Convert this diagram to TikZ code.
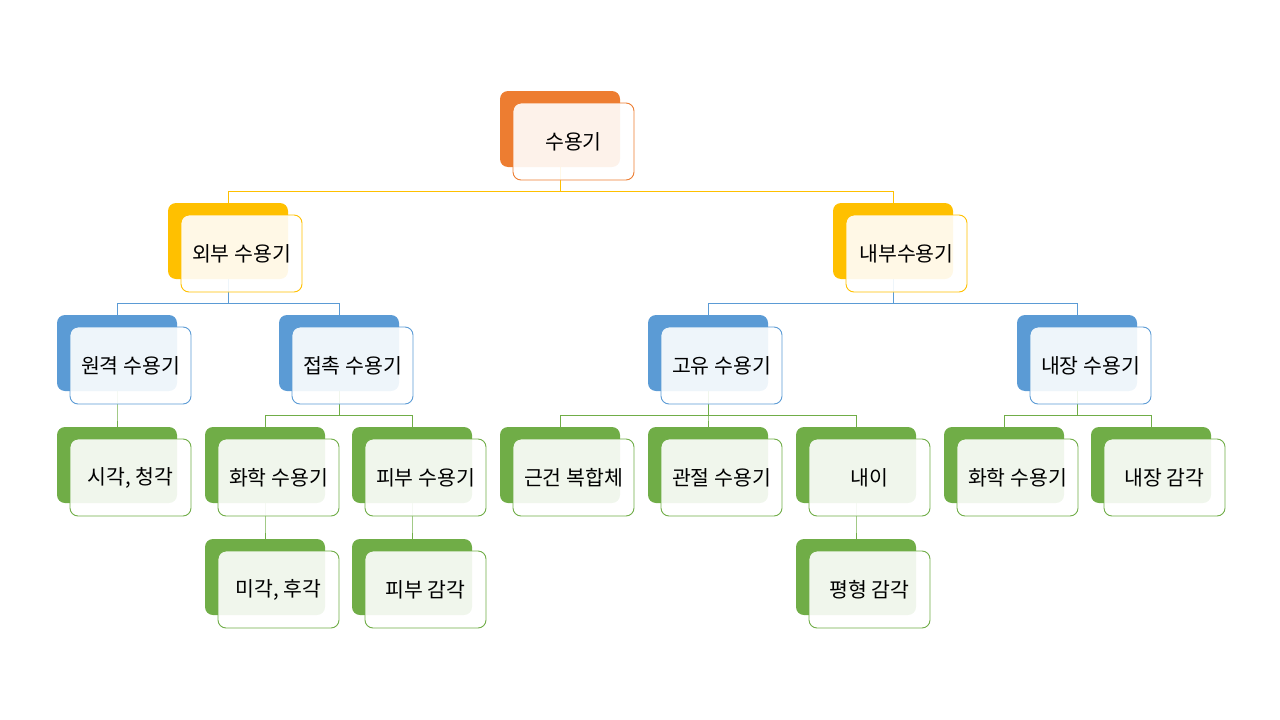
\documentclass[tikz,border=0pt]{standalone}
\usepackage{fontspec}
\newfontfamily\krfont{Noto Sans CJK KR}
\usetikzlibrary{positioning,calc}
\pgfdeclarelayer{bg}
\pgfsetlayers{bg,main}
\usepackage{xcolor}
\definecolor{accorange}{HTML}{ED7D31}
\definecolor{accgold}{HTML}{FFC000}
\definecolor{accblue}{HTML}{5B9BD5}
\definecolor{accgreen}{HTML}{70AD47}

\begin{document}
\begin{tikzpicture}[
  x=1pt, y=-1pt,
  font=\krfont\fontsize{20.5}{24}\selectfont,
  back/.style={fill=#1, rounded corners=8pt, minimum width=120pt, minimum height=76pt, inner sep=0pt},
  front/.style={draw=#1, fill=white, fill opacity=0.9, text opacity=1, rounded corners=8pt,
    minimum width=121pt, minimum height=77pt, inner sep=0pt, line width=0.9pt},
  link/.style={draw=#1, line width=0.9pt}
]
\useasboundingbox (0,0) rectangle (1280,720);

% boxes: back card + front card with the label
\foreach \n/\x/\y/\c/\t in {
  rcpt/560/129/accorange/수용기,
  ext/228/241/accgold/외부 수용기,
  int/893/241/accgold/내부수용기,
  remote/117/353/accblue/원격 수용기,
  contact/339/353/accblue/접촉 수용기,
  proprio/708/353/accblue/고유 수용기,
  visc/1077/353/accblue/내장 수용기,
  sight/117/465/accgreen/{시각, 청각},
  chem/265/465/accgreen/화학 수용기,
  skin/412/465/accgreen/피부 수용기,
  tendon/560/465/accgreen/근건 복합체,
  joint/708/465/accgreen/관절 수용기,
  ear/856/465/accgreen/내이,
  vchem/1004/465/accgreen/화학 수용기,
  vsense/1151/465/accgreen/내장 감각,
  taste/265/577/accgreen/{미각, 후각},
  touch/412/577/accgreen/피부 감각,
  balance/856/577/accgreen/평형 감각}
{
  \node[back=\c] (\n) at (\x,\y) {};
  \node[front=\c] (\n-f) at ($(\n)+(13.5,12.5)$) {\t};
}

% connectors
\begin{pgfonlayer}{bg}
\foreach \p/\k in {rcpt/ext, rcpt/int}
  \draw[link=accgold] (\p.south) -- ++(0,24) -| (\k.north);
\foreach \p/\k in {ext/remote, ext/contact, int/proprio, int/visc}
  \draw[link=accblue] (\p.south) -- ++(0,24) -| (\k.north);
\foreach \p/\k in {remote/sight, contact/chem, contact/skin, proprio/tendon, proprio/joint,
  proprio/ear, visc/vchem, visc/vsense, chem/taste, skin/touch, ear/balance}
  \draw[link=accgreen] (\p.south) -- ++(0,24) -| (\k.north);
\end{pgfonlayer}
\end{tikzpicture}
\end{document}
